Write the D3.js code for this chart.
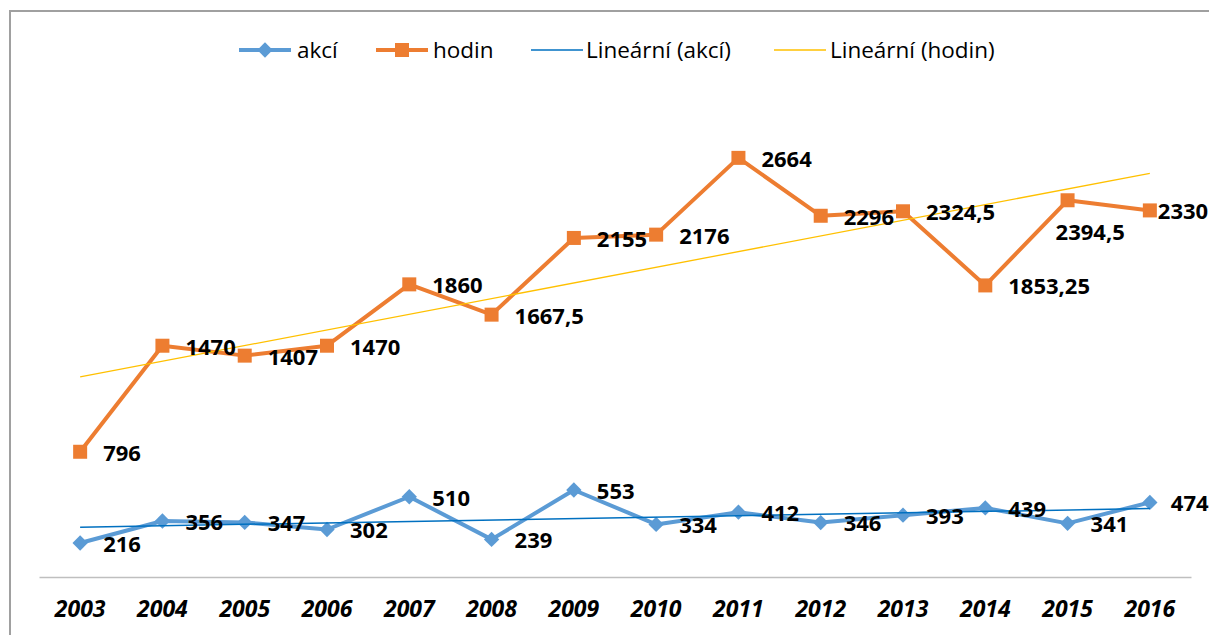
<!DOCTYPE html>
<html>
<head>
<meta charset="utf-8">
<script src="https://cdnjs.cloudflare.com/ajax/libs/d3/7.8.5/d3.min.js"></script>
<style>
  body { margin: 0; background: #fff; }
  svg { display: block; }
  .lbl { font-family: "Open Sans", sans-serif; font-weight: bold; font-size: 22px; fill: #000; }
  .legend text { font-family: "Open Sans", sans-serif; font-size: 22.5px; fill: #000; }
  .x-axis text { font-family: "Open Sans", sans-serif; font-weight: bold; font-style: italic; font-size: 23px; fill: #000; }
</style>
</head>
<body>
<script>
// data
var years = ["2003","2004","2005","2006","2007","2008","2009","2010","2011","2012","2013","2014","2015","2016"];
var akci  = [216, 356, 347, 302, 510, 239, 553, 334, 412, 346, 393, 439, 341, 474];
var hodin = [796, 1470, 1407, 1470, 1860, 1667.5, 2155, 2176, 2664, 2296, 2324.5, 1853.25, 2394.5, 2330];

var W = 1209, H = 635;

var svg = d3.select("body").append("svg")
    .attr("width", W)
    .attr("height", H);

// chart border (runs off the right and bottom edges)
svg.append("rect")
    .attr("x", 10).attr("y", 11)
    .attr("width", 1220).attr("height", 640)
    .attr("fill", "none")
    .attr("stroke", "#a0a0a0")
    .attr("stroke-width", 2);

// scales
var x = d3.scaleBand().domain(years).range([39, 1191]);
var y = d3.scaleLinear().domain([0, 3000]).range([577, 105]);
var cx = function(d) { return x(d) + x.bandwidth() / 2; };

// x axis
var xAxis = svg.append("g")
    .attr("class", "x-axis")
    .attr("transform", "translate(0," + y(0) + ")")
    .call(d3.axisBottom(x).tickSize(0).tickPadding(24));
xAxis.select(".domain").attr("stroke", "#bfbfbf").attr("stroke-width", 1.5);

// linear trend (least squares, like Excel)
function trend(vals) {
  var n = vals.length, mx = (n - 1) / 2, my = d3.mean(vals);
  var sxy = 0, sxx = 0;
  vals.forEach(function(v, i) { sxy += (i - mx) * (v - my); sxx += (i - mx) * (i - mx); });
  var b = sxy / sxx, a = my - b * mx;
  return [[0, a], [n - 1, a + b * (n - 1)]];
}

var lineXY = d3.line()
    .x(function(d) { return cx(years[d[0]]); })
    .y(function(d) { return y(d[1]); });

var series = function(vals) { return vals.map(function(v, i) { return [i, v]; }); };

// hodin series
svg.append("path")
    .attr("d", lineXY(series(hodin)))
    .attr("fill", "none")
    .attr("stroke", "#ed7d31")
    .attr("stroke-width", 4)
    .attr("stroke-linejoin", "round");

svg.selectAll(".sq")
    .data(series(hodin))
  .enter().append("rect")
    .attr("class", "sq")
    .attr("x", function(d) { return cx(years[d[0]]) - 7; })
    .attr("y", function(d) { return y(d[1]) - 7; })
    .attr("width", 14).attr("height", 14)
    .attr("fill", "#ed7d31");

// akci series
svg.append("path")
    .attr("d", lineXY(series(akci)))
    .attr("fill", "none")
    .attr("stroke", "#5b9bd5")
    .attr("stroke-width", 4)
    .attr("stroke-linejoin", "round");

var diamond = d3.symbol().type(d3.symbolDiamond2).size(150);
svg.selectAll(".dm")
    .data(series(akci))
  .enter().append("path")
    .attr("class", "dm")
    .attr("d", diamond)
    .attr("transform", function(d) { return "translate(" + cx(years[d[0]]) + "," + y(d[1]) + ")"; })
    .attr("fill", "#5b9bd5");

// trend lines
svg.append("path")
    .attr("d", lineXY(trend(hodin)))
    .attr("stroke", "#ffc000")
    .attr("stroke-width", 1.3);
svg.append("path")
    .attr("d", lineXY(trend(akci)))
    .attr("stroke", "#0070c0")
    .attr("stroke-width", 1.5);

// data labels
var fmt = function(v) { return String(v).replace(".", ","); };
function labels(vals, cls) {
  svg.selectAll("." + cls)
      .data(series(vals))
    .enter().append("text")
      .attr("class", "lbl " + cls)
      .attr("x", function(d) { return cx(years[d[0]]) + 23; })
      .attr("y", function(d) { return y(d[1]) + 1; })
      .attr("dy", "0.36em")
      .text(function(d) { return fmt(d[1]); });
}
labels(hodin, "lh");
labels(akci, "la");
// labels Excel moved by hand
svg.selectAll(".lh").filter(function(d) { return d[0] === 12; })
    .attr("x", function(d) { return cx(years[d[0]]) - 12; })
    .attr("y", function(d) { return y(d[1]) + 32; });
svg.selectAll(".lh").filter(function(d) { return d[0] === 13; })
    .attr("x", function(d) { return cx(years[d[0]]) + 8; });
svg.selectAll(".la").filter(function(d) { return d[0] === 13; })
    .attr("x", function(d) { return cx(years[d[0]]) + 21; });

// legend
var legendItems = [
  {name: "akcí", color: "#5b9bd5", w: 4, mark: "diamond", x: 239, tx: 297},
  {name: "hodin", color: "#ed7d31", w: 4, mark: "square", x: 376, tx: 433},
  {name: "Lineární (akcí)", color: "#0070c0", w: 1.5, mark: null, x: 531, tx: 586},
  {name: "Lineární (hodin)", color: "#ffc000", w: 1.5, mark: null, x: 774, tx: 830}
];
var legend = svg.selectAll(".legend")
    .data(legendItems)
  .enter().append("g")
    .attr("class", "legend")
    .attr("transform", function(d) { return "translate(" + d.x + ",50)"; });
legend.append("line")
    .attr("x1", 0).attr("x2", 52)
    .attr("stroke", function(d) { return d.color; })
    .attr("stroke-width", function(d) { return d.w; });
legend.filter(function(d) { return d.mark === "diamond"; }).append("path")
    .attr("d", diamond)
    .attr("transform", "translate(26,0)")
    .attr("fill", function(d) { return d.color; });
legend.filter(function(d) { return d.mark === "square"; }).append("rect")
    .attr("x", 19).attr("y", -7).attr("width", 14).attr("height", 14)
    .attr("fill", function(d) { return d.color; });
legend.append("text")
    .attr("x", function(d) { return d.tx - d.x; })
    .attr("dy", "0.35em")
    .text(function(d) { return d.name; });
</script>
</body>
</html>
